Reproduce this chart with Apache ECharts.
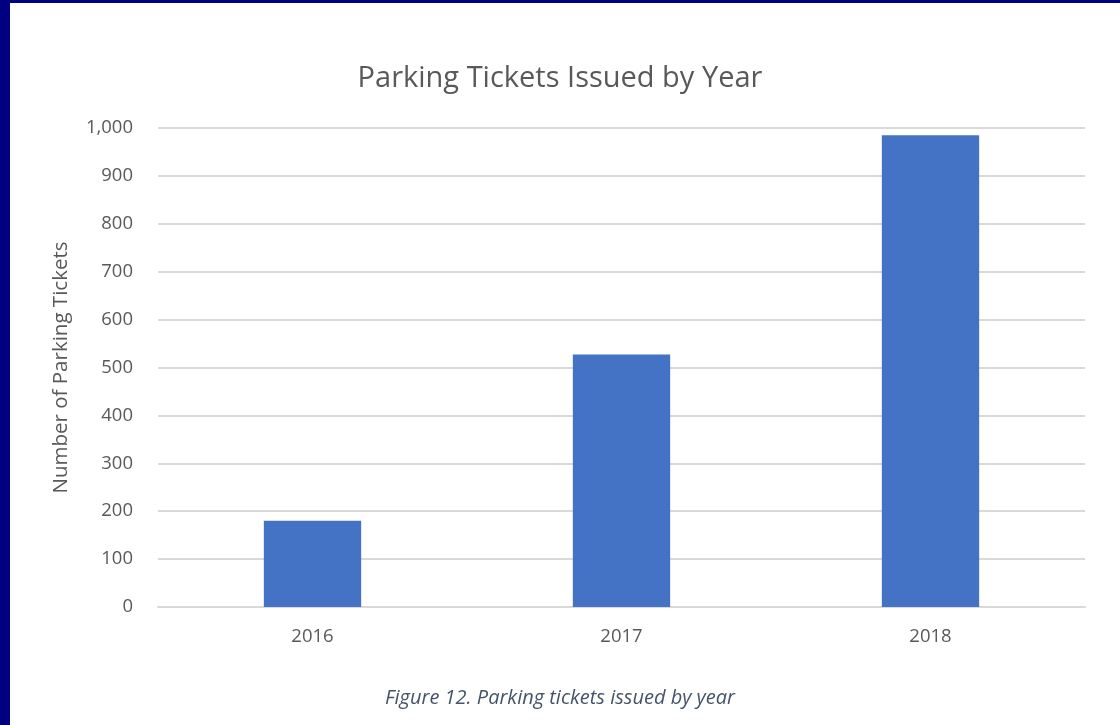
<!DOCTYPE html>
<html><head><meta charset="utf-8">
<script src="https://cdn.jsdelivr.net/npm/echarts@6/dist/echarts.min.js"></script>
<style>html,body{margin:0;padding:0;background:#fff}#c{width:1120px;height:725px}</style>
</head><body><div id="c"></div>
<script>
const categories = ['2016', '2017', '2018'];
const tickets = [180, 527, 985];
const titleText = 'Parking Tickets Issued by Year';
const yAxisName = 'Number of Parking Tickets';
const caption = 'Figure 12. Parking tickets issued by year';

const FONT = '"Open Sans", "Liberation Sans", sans-serif';
const chart = echarts.init(document.getElementById('c'), null, {renderer: 'canvas'});
chart.setOption({
  backgroundColor: '#ffffff',
  animation: false,
  title: {
    text: titleText, left: 'center', top: 59,
    textStyle: {fontFamily: FONT, fontSize: 29, fontWeight: 'normal', color: '#595959'}
  },
  grid: {left: 158, right: 35, top: 128, bottom: 118},
  xAxis: {
    type: 'category', data: categories,
    axisLine: {show: true, lineStyle: {color: '#d9d9d9', width: 2}},
    axisTick: {show: false},
    axisLabel: {fontFamily: FONT, fontSize: 18.5, color: '#595959', margin: 20}
  },
  yAxis: {
    type: 'value', min: 0, max: 1000, interval: 100,
    name: yAxisName, nameLocation: 'middle', nameGap: 86,
    nameTextStyle: {fontFamily: FONT, fontSize: 20.5, color: '#595959'},
    axisLine: {show: false}, axisTick: {show: false},
    axisLabel: {fontFamily: FONT, fontSize: 18.5, color: '#595959', margin: 25,
      formatter: v => v.toLocaleString('en-US')},
    splitLine: {lineStyle: {color: '#d9d9d9', width: 2}}
  },
  series: [{
    type: 'bar', data: tickets, barWidth: '31.5%',
    itemStyle: {color: '#4472c4'}
  }],
  graphic: [
    {type: 'rect', left: 0, top: 0, shape: {width: 1120, height: 3}, style: {fill: '#000080'}},
    {type: 'rect', left: 0, top: 0, shape: {width: 10, height: 725}, style: {fill: '#000080'}},
    {type: 'text', left: 'center', top: 688, style: {text: caption, fontFamily: FONT, fontStyle: 'italic', fontSize: 20, fill: '#44546a'}}
  ]
});
</script></body></html>
